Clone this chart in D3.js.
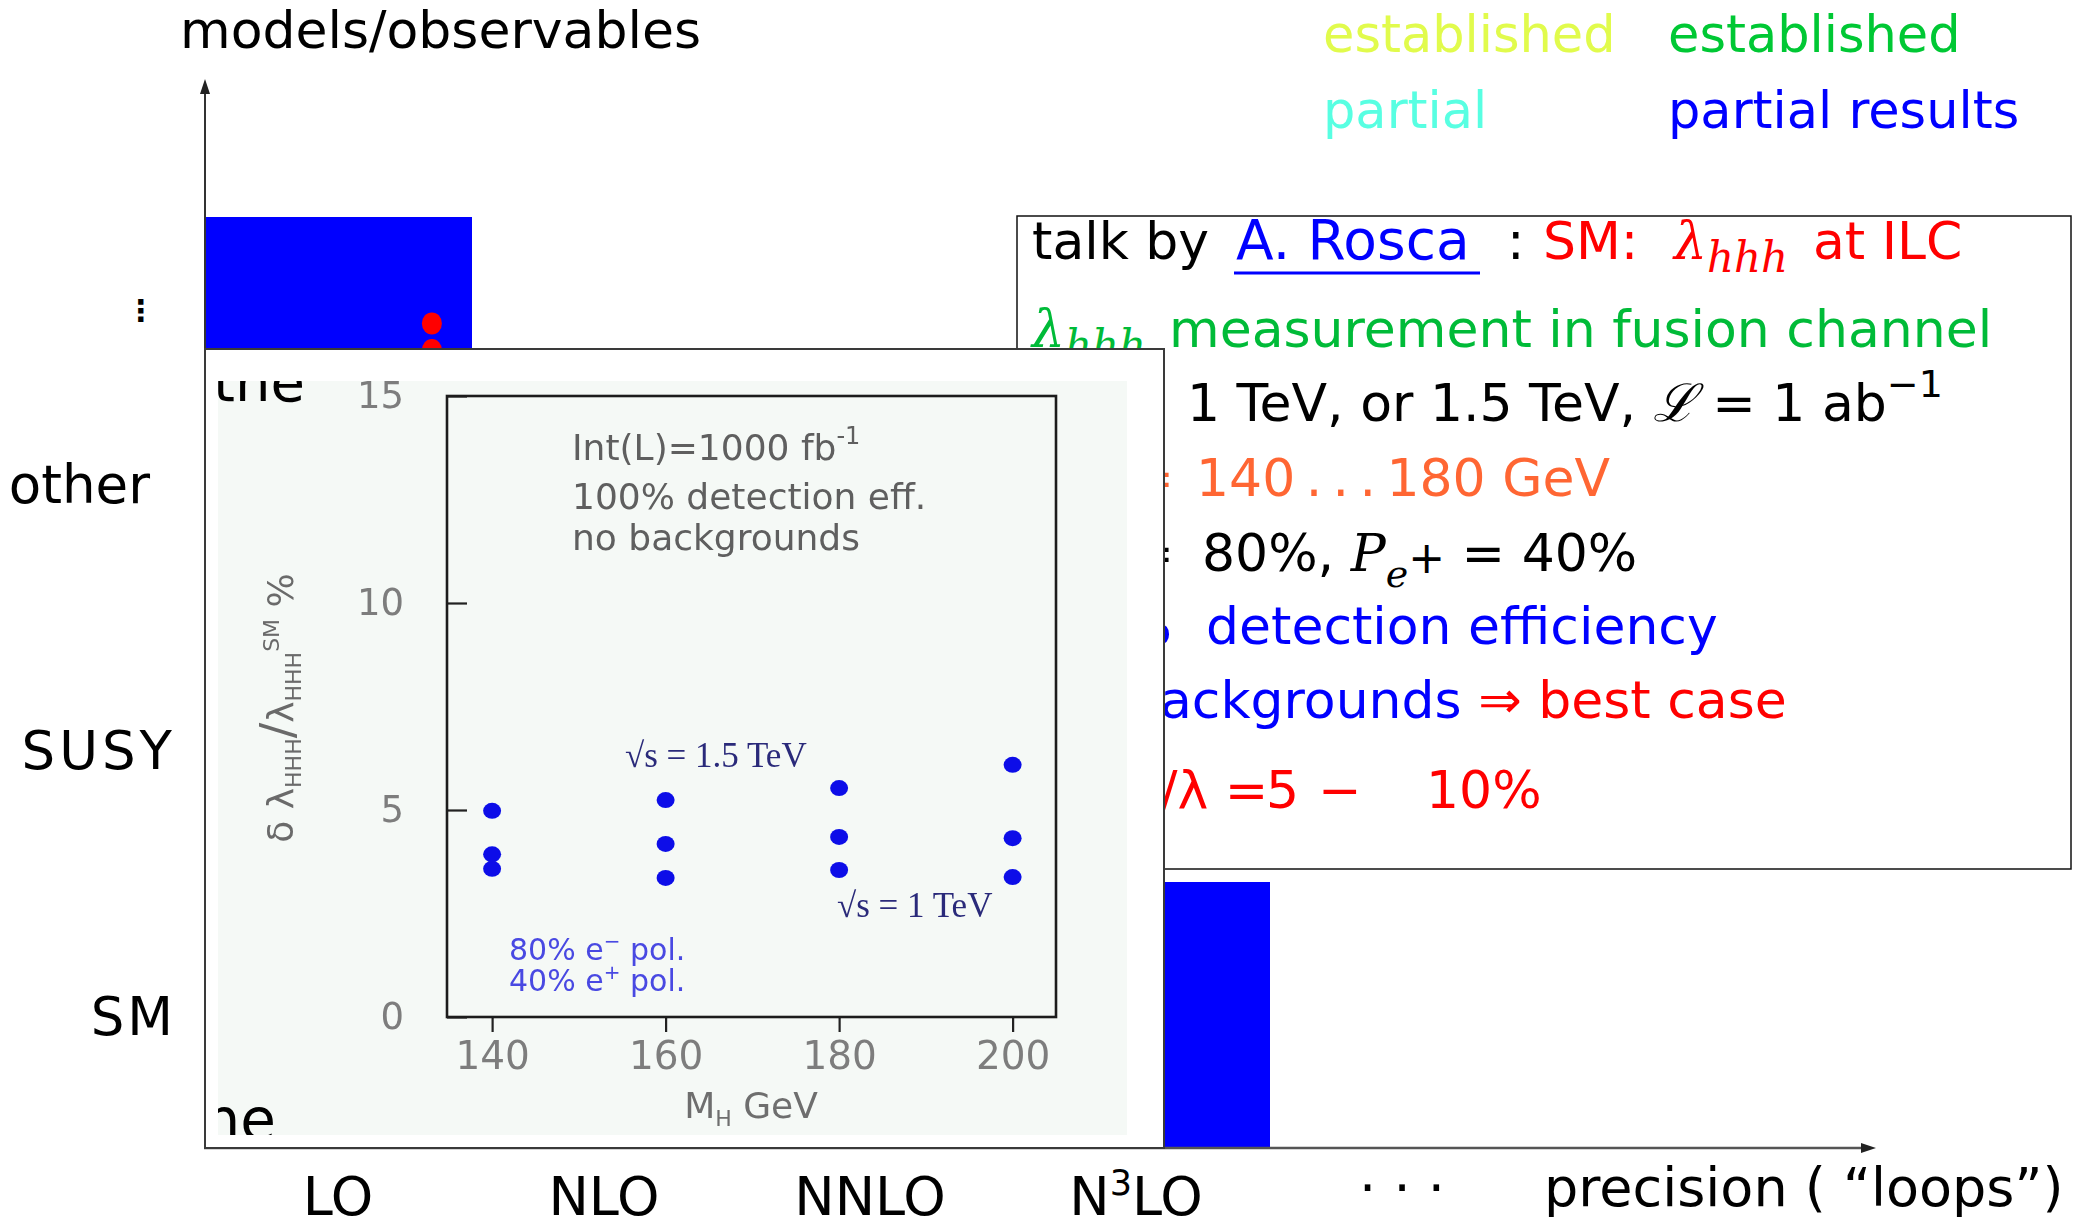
<!DOCTYPE html>
<html><head><meta charset="utf-8">
<script src="https://cdn.jsdelivr.net/npm/d3@7"></script>
<style>
html,body{margin:0;padding:0;background:#fff;}
svg{display:block;}
</style></head><body>
<svg id="c" width="2074" height="1228" font-family="'DejaVu Sans', sans-serif"></svg>
<script>
// precision orders along the horizontal axis
const orders = ["LO", "NLO", "NNLO", "N3LO", "more"];
const orderLabels = ["LO", "NLO", "NNLO", "N³LO"];
// model classes up the vertical axis
const models = ["SM", "SUSY", "other"];
const modelShift = [0, 0, -26];
// filled cells: order and height (in model rows)
const barOrders = ["LO", "N3LO"];
const barHeights = [3.5, 1];
// red markers inside the LO column
const dotLevels = [3.10, 3.00];

// inset: relative error on the trilinear Higgs coupling vs Higgs mass
const massH = [140, 160, 180, 200];
const errHigh = [4.98, 5.24, 5.53, 6.09];
const errMid = [3.93, 4.18, 4.35, 4.32];
const errLow = [3.58, 3.36, 3.55, 3.38];
const massTicks = [140, 160, 180, 200];
const errTicks = [0, 5, 10, 15];

// colour key in the top right corner
const keyTexts = ["established", "established", "partial", "partial results"];
const keyColors = ["#e1fb4c", "#00c834", "#58ffe2", "#0000ff"];

const SANS = "'DejaVu Sans', sans-serif";
const SERIF = "'DejaVu Serif', serif";
const TIMES = "'Liberation Serif', 'DejaVu Serif', serif";

const svg = d3.select("#c");
const defs = svg.append("defs");
defs.append("filter").attr("id", "soft")
  .append("feGaussianBlur").attr("stdDeviation", 0.6);

// ---------- main scheme ----------
const x = d3.scaleBand().domain(orders).range([205, 205 + 266 * orders.length]);
const y = d3.scaleLinear().domain([0, 4]).range([1148, 84]);

svg.append("g").selectAll("rect").data(barOrders).join("rect")
  .attr("x", d => x(d) + 1)
  .attr("width", x.bandwidth())
  .attr("y", (d, i) => y(barHeights[i]))
  .attr("height", (d, i) => y(0) - y(barHeights[i]))
  .attr("fill", "#0000ff");

svg.append("g").selectAll("ellipse").data(dotLevels).join("ellipse")
  .attr("cx", x("LO") + x.bandwidth() * 0.853)
  .attr("cy", d => y(d))
  .attr("rx", 10).attr("ry", 11)
  .attr("fill", "#ff0000");

// axes with arrow heads
const ax = svg.append("g").attr("fill", "#222").attr("stroke", "#333");
ax.append("line").attr("x1", 205).attr("x2", 205).attr("y1", y(0)).attr("y2", 90).attr("stroke-width", 2);
ax.append("path").attr("stroke", "none").attr("d", "M205,79 L200,94 L210,94 Z");
ax.append("line").attr("x1", 204).attr("x2", 1866).attr("y1", y(0)).attr("y2", y(0)).attr("stroke-width", 2.5).attr("stroke", "#555");
ax.append("path").attr("stroke", "none").attr("d", `M1876,${y(0)} L1861,${y(0) - 5} L1861,${y(0) + 5} Z`);

svg.append("text").attr("x", 180).attr("y", 48).attr("font-size", 52).text("models/observables");

svg.append("g").selectAll("text").data(models).join("text")
  .attr("x", (d, i) => 176 + modelShift[i])
  .attr("y", (d, i) => y(i + 0.5) + 20)
  .attr("text-anchor", "end")
  .attr("font-size", 53)
  .attr("letter-spacing", (d) => d === "SUSY" ? 4 : (d === "SM" ? 3 : 0))
  .text(d => d);
svg.append("text").attr("x", 141).attr("y", 321).attr("text-anchor", "middle")
  .attr("font-size", 30).attr("font-weight", "bold").text("⋮");

svg.append("g").selectAll("text").data(orderLabels).join("text")
  .attr("x", (d, i) => x(orders[i]) + x.bandwidth() / 2)
  .attr("y", 1215)
  .attr("text-anchor", "middle")
  .attr("font-size", 54)
  .each(function (d) {
    const t = d3.select(this);
    if (d === "N³LO") {
      t.append("tspan").text("N");
      t.append("tspan").attr("font-size", 35).attr("dy", -20).text("3");
      t.append("tspan").attr("dy", 20).text("LO");
    } else t.text(d);
  });
svg.append("text").attr("x", x("more") + x.bandwidth() / 2).attr("y", 1206)
  .attr("text-anchor", "middle").attr("font-size", 54).text("· · ·");
svg.append("text").attr("x", 1544).attr("y", 1206).attr("font-size", 54)
  .text("precision ( “loops”)");

// colour key
svg.append("g").selectAll("text").data(keyTexts).join("text")
  .attr("x", (d, i) => i % 2 ? 1668 : 1323)
  .attr("y", (d, i) => i < 2 ? 52 : 128)
  .attr("font-size", 51)
  .attr("fill", (d, i) => keyColors[i])
  .text(d => d);

// ---------- talk summary box ----------
function runs(sel, list) {
  let off = 0;
  list.forEach(r => {
    const sh = r.shift || 0;
    const ts = sel.append("tspan").attr("dy", sh - off).text(r.t);
    off = sh;
    if (r.fill) ts.attr("fill", r.fill);
    if (r.size) ts.attr("font-size", r.size);
    if (r.serif) ts.attr("font-family", SERIF);
    if (r.italic) ts.attr("font-style", "italic");
    if (r.x != null) ts.attr("x", r.x);
  });
}
const RED = "#ff0000", GRN = "#00bb38", BLU = "#0000ff", ORG = "#ff6633";

const box = svg.append("g");
box.append("rect").attr("x", 1017).attr("y", 216).attr("width", 1054).attr("height", 653)
  .attr("fill", "#fff").attr("stroke", "#111").attr("stroke-width", 1.5);
const bt = (xx, yy, anchor) => box.append("text").attr("x", xx).attr("y", yy)
  .attr("font-size", 52).attr("text-anchor", anchor || "start");

runs(bt(1032, 259), [
  { t: "talk by" },
  { t: "A. Rosca", fill: BLU, x: 1236, size: 55 },
  { t: ":", x: 1507 },
  { t: "SM:", fill: RED, x: 1543 },
  { t: "λ", fill: RED, serif: true, italic: true, x: 1674 },
  { t: "hhh", fill: RED, serif: true, italic: true, size: 42, shift: 13 },
  { t: "at ILC", fill: RED, x: 1813 }
]);
box.append("line").attr("x1", 1234).attr("x2", 1480).attr("y1", 273).attr("y2", 273)
  .attr("stroke", BLU).attr("stroke-width", 3);

runs(bt(1032, 347), [
  { t: "λ", fill: GRN, serif: true, italic: true },
  { t: "hhh", fill: GRN, serif: true, italic: true, size: 42, shift: 13 },
  { t: "measurement in fusion channel", fill: GRN, x: 1169 }
]);

runs(bt(1158, 421, "end"), [{ t: "√s =" }]);
runs(bt(1187, 421), [
  { t: "1 TeV, or 1.5 TeV, " },
  { t: "ℒ", serif: true, italic: true },
  { t: " = 1 ab" },
  { t: "−1", size: 38, shift: -24 }
]);

runs(bt(1174, 496, "end"), [
  { t: "M", fill: ORG }, { t: "H", fill: ORG, size: 36, shift: 10 }, { t: " =", fill: ORG }
]);
runs(bt(1196, 496), [{ t: "140\u2009.\u2009.\u2009.\u2009180 GeV", fill: ORG }]);

runs(bt(1174, 571, "end"), [
  { t: "P", serif: true, italic: true }, { t: "e−", serif: true, italic: true, size: 36, shift: 12 }, { t: " =" }
]);
runs(bt(1202, 571), [
  { t: "80%, " },
  { t: "P", serif: true, italic: true },
  { t: "e", serif: true, italic: true, size: 38, shift: 16 },
  { t: "+", size: 44, shift: 2 },
  { t: " = 40%" }
]);

runs(bt(1172, 644, "end"), [{ t: "100%", fill: BLU }]);
runs(bt(1206, 644), [{ t: "detection efficiency", fill: BLU }]);

runs(bt(1160, 718, "end"), [{ t: "no b", fill: BLU }]);
runs(bt(1160, 718), [
  { t: "ackgrounds", fill: BLU },
  { t: " ⇒ best case", fill: RED }
]);

runs(bt(1160, 808, "end"), [{ t: "δ", fill: RED, serif: true, italic: true }, { t: "λ", fill: RED }]);
runs(bt(1160, 808), [
  { t: "/", fill: RED },
  { t: "λ", fill: RED },
  { t: " =", fill: RED },
  { t: "5", fill: RED, x: 1266 },
  { t: "−", fill: RED, x: 1318 },
  { t: "10%", fill: RED, x: 1426 }
]);

// ---------- inset plot ----------
const inset = svg.append("g");
inset.append("rect").attr("x", 205).attr("y", 349).attr("width", 959).attr("height", 799)
  .attr("fill", "#fff").attr("stroke", "#3a3a3a").attr("stroke-width", 2);
defs.append("clipPath").attr("id", "pane")
  .append("rect").attr("x", 218).attr("y", 381).attr("width", 909).attr("height", 754);

const pane = inset.append("g").attr("clip-path", "url(#pane)");
pane.append("rect").attr("x", 218).attr("y", 381).attr("width", 909).attr("height", 754).attr("fill", "#f5f9f6");
// slide text peeking in at the edges of the pasted figure
pane.append("text").attr("x", 213).attr("y", 401).attr("font-size", 56).attr("fill", "#000").text("the");
pane.append("text").attr("x", 276).attr("y", 1140).attr("font-size", 58).attr("fill", "#000")
  .attr("text-anchor", "end").text("ne");

const fig = pane.append("g").attr("filter", "url(#soft)");
const xs = d3.scaleLinear().domain([134.8, 205]).range([447, 1056]);
const ys = d3.scaleLinear().domain([0, 15]).range([1017, 396]);

const gx = fig.append("g").attr("transform", `translate(0,${ys(0)})`)
  .call(d3.axisBottom(xs).tickValues(massTicks).tickSize(15).tickPadding(9));
const gy = fig.append("g").attr("transform", `translate(${xs.range()[0]},0)`)
  .call(d3.axisLeft(ys).tickValues(errTicks).tickSize(-20).tickPadding(43));
[gx, gy].forEach(g => {
  g.attr("font-family", SANS);
  g.select(".domain").remove();
  g.selectAll("line").attr("stroke", "#222").attr("stroke-width", 2.2);
  g.selectAll("text").attr("fill", "#7d7d7d");
});
gx.selectAll("text").attr("font-size", 39);
gy.selectAll("text").attr("font-size", 37);

fig.append("rect").attr("x", xs.range()[0]).attr("y", ys(15))
  .attr("width", xs.range()[1] - xs.range()[0]).attr("height", ys(0) - ys(15))
  .attr("fill", "none").attr("stroke", "#1a1a1a").attr("stroke-width", 2.6);

[errHigh, errMid, errLow].forEach(series => {
  fig.append("g").selectAll("ellipse").data(massH).join("ellipse")
    .attr("cx", d => xs(d))
    .attr("cy", (d, i) => ys(series[i]))
    .attr("rx", 9).attr("ry", 8)
    .attr("fill", "#0a10e8");
});

const ft = (xx, yy, size, fill, anchor) => fig.append("text").attr("x", xx).attr("y", yy)
  .attr("font-size", size).attr("fill", fill).attr("text-anchor", anchor || "start");
runs(ft(572, 460, 36, "#5e5e5e"), [{ t: "Int(L)=1000 fb" }, { t: "-1", size: 24, shift: -16 }]);
ft(572, 509, 36, "#5e5e5e").text("100% detection eff.");
ft(572, 550, 36, "#5e5e5e").text("no backgrounds");

ft(625, 767, 35, "#2a2a7a").attr("font-family", TIMES).text("√s = 1.5 TeV");
ft(837, 917, 35, "#2a2a7a").attr("font-family", TIMES).text("√s = 1 TeV");

runs(ft(509, 960, 30, "#4848e2"), [{ t: "80% e" }, { t: "−", size: 20, shift: -12 }, { t: " pol." }]);
runs(ft(509, 991, 30, "#4848e2"), [{ t: "40% e" }, { t: "+", size: 20, shift: -12 }, { t: " pol." }]);

runs(ft(751, 1118, 36, "#6e6e6e", "middle"), [{ t: "M" }, { t: "H", size: 22, shift: 8 }, { t: " GeV" }]);

runs(fig.append("text").attr("transform", "translate(293,708) rotate(-90)")
  .attr("text-anchor", "middle").attr("font-size", 36).attr("fill", "#6a6a6a"), [
  { t: "δ λ" }, { t: "HHH", size: 22, shift: 8 },
  { t: "/", size: 46 },
  { t: "λ" }, { t: "HHH", size: 22, shift: 8 },
  { t: "SM", size: 22, shift: -14 },
  { t: " %" }
]);
</script>
</body></html>
